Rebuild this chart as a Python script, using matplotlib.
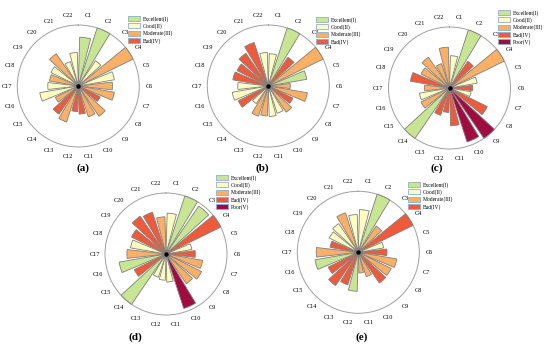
import numpy as np
import matplotlib
matplotlib.use("Agg")
import matplotlib.pyplot as plt
from matplotlib.patches import Patch

categories = [f"C{i}" for i in range(1, 23)]
class_names = ["Excellent(I)", "Good(II)", "Moderate(III)", "Bad(IV)", "Poor(V)"]
class_colors = ["#c8e594", "#fefec0", "#fbb066", "#ef5a3a", "#a10c40"]

# class codes: E=Excellent, G=Good, M=Moderate, B=Bad, P=Poor
a_vals = [0.80, 1.00, 0.50, 1.00, 0.60, 0.56, 0.60, 0.40, 0.60, 0.53, 0.46,
          0.42, 0.62, 0.56, 0.42, 0.64, 0.50, 0.48, 0.50, 0.64, 0.42, 0.55]
a_cls = "E E G M G M M B M M B B M B M G G M G M G G".split()

b_vals = [0.53, 1.00, 0.57, 1.00, 0.64, 0.36, 0.65, 0.45, 0.52, 0.47, 0.50,
          0.49, 0.52, 0.35, 0.55, 0.60, 0.50, 0.59, 0.57, 0.65, 0.75, 0.55]
b_cls = "G E B M E M M B M G G M M G B G G B B B B G".split()

c_vals = [0.53, 1.00, 0.53, 1.00, 0.46, 0.38, 0.36, 0.69, 1.00, 0.93, 0.62,
          0.40, 0.47, 1.00, 0.52, 0.50, 0.41, 0.65, 0.52, 0.61, 0.42, 0.67]
c_cls = "G E B M G B G B P P B B B E M G M B M M M M".split()

d_vals = [0.67, 1.00, 0.95, 1.00, 0.43, 0.48, 0.61, 0.65, 0.59, 0.94, 0.46,
          0.43, 0.40, 1.00, 0.58, 0.78, 0.64, 0.59, 0.63, 0.75, 0.72, 0.61]
d_cls = "G E E B G B M M M P G G G E B E M G B B B M".split()

e_vals = [0.70, 1.00, 0.52, 1.00, 0.42, 0.47, 0.64, 0.60, 0.61, 0.42, 0.34,
          0.64, 0.56, 0.66, 0.55, 0.72, 0.69, 0.47, 0.53, 0.57, 0.68, 0.62]
e_cls = "G E M B G B M M B M M E B B B E M B G G M G".split()

code_idx = {"E": 0, "G": 1, "M": 2, "B": 3, "P": 4}

panels = [
    ("(a)", a_vals, a_cls, 4, (78.3, 86.0), (128, 16), (83, 168)),
    ("(b)", b_vals, b_cls, 4, (268.3, 86.0), (316, 17), (262, 168)),
    ("(c)", c_vals, c_cls, 5, (449.5, 88.0), (498, 10), (437, 168)),
    ("(d)", d_vals, d_cls, 5, (166.0, 254.0), (216, 175), (135, 337)),
    ("(e)", e_vals, e_cls, 4, (358.3, 252.3), (408, 182), (362, 337)),
]

W, H = 550, 345
R = 61
fig = plt.figure(figsize=(W / 100, H / 100), dpi=100)
serif = ["Liberation Serif", "DejaVu Serif"]

n = len(categories)
step = 2 * np.pi / n
theta = (np.arange(n) + 0.5) * step

for cap, vals, cls, nleg, (cx, cy), (lx, ly), (tx, ty) in panels:
    ax = fig.add_axes([(cx - R) / W, (H - cy - R) / H, 2 * R / W, 2 * R / H],
                      projection="polar")
    ax.set_theta_zero_location("N")
    ax.set_theta_direction(-1)
    colors = [class_colors[code_idx[c]] for c in cls]
    ax.bar(theta, vals, width=step * 0.8, bottom=0, color=colors,
           edgecolor="#7f7f7f", linewidth=0.6, zorder=3)
    ax.plot([0], [0], marker="o", color="black", markersize=2.2, zorder=5)
    ax.set_ylim(0, 1.0)
    ax.set_yticks([])
    ax.set_xticks(theta)
    ax.set_xticklabels(categories, fontsize=4.5, family=serif)
    ax.tick_params(axis="x", pad=0.5, length=0)
    ax.grid(False)
    ax.spines["polar"].set_color("#a0a0a0")
    ax.spines["polar"].set_linewidth(0.7)
    ax.patch.set_alpha(0)
    for b in ax.patches:
        b.set_clip_on(False)

    handles = [Patch(facecolor=class_colors[i], edgecolor="#8fb0c8",
                     linewidth=0.6, label=class_names[i]) for i in range(nleg)]
    fig.legend(handles=handles, loc="upper left",
               bbox_to_anchor=(lx / W, 1 - ly / H), frameon=False,
               prop={"family": serif, "size": 4}, handlelength=2.2,
               handleheight=1.0, labelspacing=0.28, handletextpad=0.4,
               borderaxespad=0, borderpad=0)
    fig.text(tx / W, 1 - ty / H, cap, ha="center", va="center",
             fontsize=8, family=serif, fontweight="bold")

fig.savefig("out.png", dpi=100)
